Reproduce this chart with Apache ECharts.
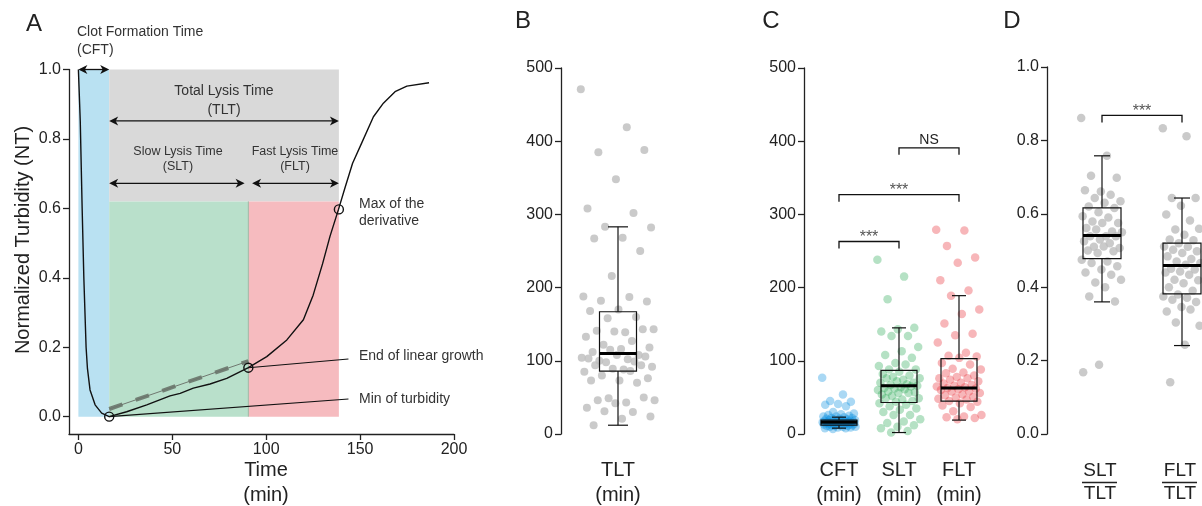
<!DOCTYPE html>
<html>
<head>
<meta charset="utf-8">
<script src="https://cdn.jsdelivr.net/npm/echarts@6/dist/echarts.min.js"></script>
<style>
html, body { margin: 0; padding: 0; background: #fff; }
#main { width: 1202px; height: 506px; }
</style>
</head>
<body>
<div id="main"></div>
<script>
// Panel A: one turbidity curve (time in min, normalized turbidity)
const curveTime = [0, 1, 2, 2.9, 4.1, 4.8, 6.2, 8.9, 12.4, 16.4, 25.7, 36.4, 48.8, 54.2, 61.2, 70.1, 79, 90.5,
    100.3, 111, 119.8, 125, 130, 134, 138.5, 142, 146, 151, 157.1, 162.4, 168.6, 174.9, 186.7];
const curveNT = [1.0, 0.85, 0.6, 0.4, 0.2, 0.14, 0.077, 0.034, 0.01, 0, 0.014, 0.034, 0.06, 0.067, 0.082, 0.094, 0.11, 0.141,
    0.173, 0.221, 0.279, 0.35, 0.44, 0.52, 0.597, 0.66, 0.73, 0.79, 0.864, 0.903, 0.936, 0.952, 0.962];
// key points: min of turbidity, end of linear growth, max of derivative
const keyTime = [16.4, 90.5, 138.7];
const keyNT = [0, 0.141, 0.597];
const linearFitTime = [16.4, 90.5];
const linearFitNT = [0.022, 0.160];

// Panel B: total lysis time (min)
const tltValues = [471, 419, 385, 388, 348, 308, 302, 283, 282, 268, 267, 250, 216, 188, 187, 182, 181, 170, 168, 160,
    158, 143, 139, 141, 143, 140, 133, 127, 122, 118, 116, 112, 108, 115, 104, 102, 100, 106, 108, 103,
    99, 98, 92, 88, 94, 94, 89, 85, 86, 80, 76, 73, 73, 70, 49, 46, 43, 46, 50, 42, 36, 30, 31, 24, 21, 12];
const tltBox = [12, 86, 110, 167, 283]; // min, q1, median, q3, max

// Panel C: CFT, SLT, FLT (min)
const cCategories = ['CFT', 'SLT', 'FLT'];
const cftValues = [77, 54, 45, 44, 41, 40, 38, 30, 28, 27, 26, 25, 24, 24, 23, 22, 22, 21, 21, 20, 20, 19, 19, 19,
    18, 18, 18, 17, 17, 17, 17, 16, 16, 16, 16, 16, 15, 15, 15, 15, 15, 14, 14, 14, 14, 13, 13, 13, 13,
    12, 12, 12, 11, 11, 11, 10, 10, 10, 9, 9, 8, 8, 7];
const sltValues = [238, 215, 184, 145, 143, 140, 134, 134, 119, 113, 108, 104, 97, 93, 95, 88, 88, 85, 82, 80, 78,
    76, 74, 76, 70, 72, 70, 68, 67, 66, 64, 63, 65, 62, 60, 61, 58, 57, 56, 54, 56, 52, 49, 47, 49, 45, 44,
    42, 40, 38, 35, 33, 30, 26, 26, 20, 17, 15, 12, 10, 8, 4, 2];
const fltValues = [279, 278, 257, 241, 234, 210, 196, 189, 170, 164, 151, 137, 135, 125, 111, 107, 106, 104, 97, 95,
    89, 88, 84, 83, 80, 78, 76, 76, 74, 72, 70, 69, 67, 66, 65, 64, 63, 62, 61, 60, 58, 58, 56, 54, 53,
    51, 50, 48, 47, 45, 44, 42, 39, 37, 31, 26, 24, 23, 22, 20];
const cBoxes = [
    [8, 12, 16, 19, 23],
    [2, 43, 66, 87, 145],
    [19, 45, 63, 103, 189]
];
const cBrackets = [[1, 2, 263], [1, 3, 327], [2, 3, 391]];
const cBracketLabels = ['***', '***', 'NS'];

// Panel D: ratios
const dCategories = ['SLT/TLT', 'FLT/TLT'];
const sltRatio = [0.861, 0.758, 0.704, 0.698, 0.661, 0.664, 0.652, 0.643, 0.634, 0.63, 0.62, 0.616, 0.604, 0.593, 0.59,
    0.579, 0.575, 0.575, 0.561, 0.552, 0.557, 0.55, 0.539, 0.539, 0.539, 0.53, 0.525, 0.52, 0.51, 0.507, 0.511,
    0.50, 0.498, 0.493, 0.475, 0.47, 0.466, 0.457, 0.448, 0.44, 0.434, 0.413, 0.42, 0.40, 0.375, 0.361, 0.189, 0.168];
const fltRatio = [0.833, 0.811, 0.643, 0.643, 0.622, 0.598, 0.582, 0.557, 0.559, 0.543, 0.53, 0.528, 0.52, 0.511,
    0.51, 0.502, 0.498, 0.493, 0.484, 0.477, 0.47, 0.466, 0.461, 0.45, 0.448, 0.443, 0.44, 0.434, 0.42, 0.419,
    0.411, 0.40, 0.39, 0.38, 0.375, 0.371, 0.366, 0.36, 0.346, 0.334, 0.339, 0.304, 0.295, 0.243, 0.141];
const dBoxes = [
    [0.36, 0.478, 0.541, 0.616, 0.758],
    [0.241, 0.382, 0.459, 0.52, 0.643]
];
const dBrackets = [[1, 2, 0.868]];

const FONT = '"Liberation Sans", Arial, Helvetica, sans-serif';
const INK = '#222';

function jitter(values, center, spread) {
    return values.map((v, i) => [center + (((i * 0.618034) % 1) * 2 - 1) * spread, v]);
}

function yAxisOf(grid, min, max, opts) {
    return Object.assign({
        gridIndex: grid, type: 'value', min: min, max: max,
        axisLine: { show: true, onZero: false, lineStyle: { color: INK, width: 1.3 } },
        axisTick: { show: true, length: 6, lineStyle: { color: INK, width: 1.3 } },
        axisLabel: { color: INK, fontSize: 16, fontFamily: FONT, margin: 8 },
        splitLine: { show: false }
    }, opts || {});
}

function hiddenX(grid, min, max) {
    return { gridIndex: grid, type: 'value', min: min, max: max, show: false, splitLine: { show: false } };
}

function boxRender(halfW, capW) {
    return function (params, api) {
        const x = api.value(0);
        const pMin = api.coord([x, api.value(1)]);
        const pQ1 = api.coord([x, api.value(2)]);
        const pMed = api.coord([x, api.value(3)]);
        const pQ3 = api.coord([x, api.value(4)]);
        const pMax = api.coord([x, api.value(5)]);
        const cx = pMed[0];
        const ls = { stroke: '#111', lineWidth: 1.2 };
        return {
            type: 'group',
            children: [
                { type: 'line', shape: { x1: cx, y1: pQ3[1], x2: cx, y2: pMax[1] }, style: ls },
                { type: 'line', shape: { x1: cx, y1: pQ1[1], x2: cx, y2: pMin[1] }, style: ls },
                { type: 'line', shape: { x1: cx - capW, y1: pMax[1], x2: cx + capW, y2: pMax[1] }, style: ls },
                { type: 'line', shape: { x1: cx - capW, y1: pMin[1], x2: cx + capW, y2: pMin[1] }, style: ls },
                { type: 'rect', shape: { x: cx - halfW, y: pQ3[1], width: 2 * halfW, height: pQ1[1] - pQ3[1] },
                    style: { fill: 'none', stroke: '#111', lineWidth: 1.2 } },
                { type: 'line', shape: { x1: cx - halfW, y1: pMed[1], x2: cx + halfW, y2: pMed[1] },
                    style: { stroke: '#000', lineWidth: 3 } }
            ]
        };
    };
}

function bracketRender(labels, fontSize) {
    return function (params, api) {
        const p0 = api.coord([api.value(0), api.value(2)]);
        const p1 = api.coord([api.value(1), api.value(2)]);
        const ls = { stroke: '#111', lineWidth: 1.3, fill: 'none' };
        const lab = labels[params.dataIndex];
        const isStar = lab === '***';
        return {
            type: 'group',
            children: [
                { type: 'polyline', shape: { points: [[p0[0], p0[1] + 7], [p0[0], p0[1]], [p1[0], p1[1]], [p1[0], p1[1] + 7]] }, style: ls },
                { type: 'text', x: (p0[0] + p1[0]) / 2, y: p0[1] - (isStar ? 4 : 8),
                    style: { text: lab, font: (isStar ? 16 : fontSize) + 'px ' + FONT, fill: isStar ? '#555' : INK,
                        textAlign: 'center', textVerticalAlign: 'middle' } }
            ]
        };
    };
}

function arrowHead(tip, dir) {
    const L = 9, W = 4.5, N = 2.5;
    return {
        type: 'polygon',
        shape: { points: [[tip[0], tip[1]], [tip[0] - dir * L, tip[1] - W], [tip[0] - dir * (L - N), tip[1]], [tip[0] - dir * L, tip[1] + W]] },
        style: { fill: '#111' }
    };
}

function arrow(api, t0, t1, y) {
    const p0 = api.coord([t0, y]);
    const p1 = api.coord([t1, y]);
    return [
        { type: 'line', shape: { x1: p0[0] + 2, y1: p0[1], x2: p1[0] - 2, y2: p1[1] }, style: { stroke: '#111', lineWidth: 1.3 } },
        arrowHead(p0, -1), arrowHead(p1, 1)
    ];
}

const tMin = keyTime[0], tLin = keyTime[1], tMax = keyTime[2];

function rect(api, x0, x1, y0, y1, color) {
    const a = api.coord([x0, y1]);
    const b = api.coord([x1, y0]);
    return { type: 'rect', shape: { x: a[0], y: a[1], width: b[0] - a[0], height: b[1] - a[1] }, style: { fill: color } };
}

const chart = echarts.init(document.getElementById('main'));

const texts = [];
function txt(s, x, y, size, align, color, rot) {
    texts.push({
        type: 'text', x: x, y: y, rotation: rot || 0, z: 100,
        style: { text: s, font: size + 'px ' + FONT, fill: color || INK, textAlign: align || 'center', textVerticalAlign: 'middle' }
    });
}
// panel letters
txt('A', 34, 24, 24);
txt('B', 523, 21, 24);
txt('C', 771, 21, 24);
txt('D', 1012, 21, 24);
// panel A annotations
txt('Clot Formation Time', 77, 32, 14, 'left', '#333');
txt('(CFT)', 77, 50, 14, 'left', '#333');
txt('Total Lysis Time', 224, 91, 14, 'center', '#333');
txt('(TLT)', 224, 110, 14, 'center', '#333');
txt('Slow Lysis Time', 178, 152, 12.5, 'center', '#333');
txt('(SLT)', 178, 167, 12.5, 'center', '#333');
txt('Fast Lysis Time', 295, 152, 12.5, 'center', '#333');
txt('(FLT)', 295, 167, 12.5, 'center', '#333');
txt('Max of the', 359, 204, 14, 'left', '#333');
txt('derivative', 359, 221, 14, 'left', '#333');
txt('End of linear growth', 359, 356, 14, 'left', '#333');
txt('Min of turbidity', 359, 399, 14, 'left', '#333');
txt('Normalized Turbidity (NT)', 23, 240, 20, 'center', INK, Math.PI / 2);
txt('Time', 266, 470, 20);
txt('(min)', 266, 495, 20);
// panel B/C labels
txt('TLT', 618, 470, 20);
txt('(min)', 618, 495, 20);
[839, 899, 959].forEach((x, i) => {
    txt(cCategories[i], x, 470, 20);
    txt('(min)', x, 495, 20);
});
// panel D fraction labels
[1100, 1180].forEach((x, i) => {
    const parts = dCategories[i].split('/');
    txt(parts[0], x, 471, 19);
    txt(parts[1], x, 494, 19);
    texts.push({ type: 'line', z: 100, shape: { x1: x - 18, y1: 482.5, x2: x + 17, y2: 482.5 }, style: { stroke: INK, lineWidth: 1.3 } });
});

const option = {
    backgroundColor: '#fff',
    animation: false,
    grid: [
        { left: 69, top: 69.5, width: 385, height: 364.5 },
        { left: 561, top: 68, width: 120, height: 366 },
        { left: 804, top: 68, width: 185, height: 366 },
        { left: 1047, top: 67, width: 155, height: 367 }
    ],
    xAxis: [
        {
            gridIndex: 0, type: 'value', min: -5, max: 200,
            axisLine: { show: true, onZero: false, lineStyle: { color: INK, width: 1.3 } },
            axisTick: { show: true, length: 6, customValues: [0, 50, 100, 150, 200], lineStyle: { color: INK, width: 1.3 } },
            axisLabel: { customValues: [0, 50, 100, 150, 200], color: INK, fontSize: 16, fontFamily: FONT, margin: 8 },
            splitLine: { show: false }
        },
        hiddenX(1, -0.95, 1.05),
        hiddenX(2, 0.4167, 3.5),
        hiddenX(3, 0.3125, 2.25)
    ],
    yAxis: [
        yAxisOf(0, -0.05, 1.0, {
            axisTick: { show: true, length: 6, customValues: [0, 0.2, 0.4, 0.6, 0.8, 1.0], lineStyle: { color: INK, width: 1.3 } },
            axisLabel: { customValues: [0, 0.2, 0.4, 0.6, 0.8, 1.0], formatter: v => v.toFixed(1), color: INK, fontSize: 16, fontFamily: FONT, margin: 8 }
        }),
        yAxisOf(1, 0, 500, { interval: 100 }),
        yAxisOf(2, 0, 500, { interval: 100 }),
        yAxisOf(3, 0, 1, {
            interval: 0.2,
            axisLabel: { formatter: v => v.toFixed(1), color: INK, fontSize: 16, fontFamily: FONT, margin: 8 }
        })
    ],
    graphic: texts,
    series: [
        {
            // phase backgrounds
            type: 'custom', xAxisIndex: 0, yAxisIndex: 0, z: 1, silent: true, data: [0],
            renderItem: function (params, api) {
                const div0 = api.coord([tLin, 0]);
                const div1 = api.coord([tLin, 0.62]);
                return {
                    type: 'group', children: [
                        rect(api, 0, tMin, 0, 1.0, '#b9e1f2'),
                        rect(api, tMin, tMax, 0.62, 1.0, '#d9d9d9'),
                        rect(api, tMin, tLin, 0, 0.62, '#b9e0cb'),
                        rect(api, tLin, tMax, 0, 0.62, '#f6bbbf'),
                        { type: 'line', shape: { x1: div0[0], y1: div0[1], x2: div1[0], y2: div1[1] }, style: { stroke: '#9fb8a4', lineWidth: 1 } }
                    ]
                };
            }
        },
        {
            type: 'line', xAxisIndex: 0, yAxisIndex: 0, z: 3, showSymbol: false, silent: true,
            data: linearFitTime.map((t, i) => [t, linearFitNT[i]]),
            lineStyle: { color: '#707870', width: 1 }
        },
        {
            type: 'line', xAxisIndex: 0, yAxisIndex: 0, z: 3, showSymbol: false, silent: true,
            data: linearFitTime.map((t, i) => [t, linearFitNT[i]]),
            lineStyle: { color: '#6a756c', width: 4, type: [14, 14], opacity: 0.9 }
        },
        {
            type: 'line', xAxisIndex: 0, yAxisIndex: 0, z: 4, showSymbol: false, silent: true,
            data: curveTime.map((t, i) => [t, curveNT[i]]),
            lineStyle: { color: '#111', width: 1.4 }
        },
        {
            // arrows, leader lines and key point circles
            type: 'custom', xAxisIndex: 0, yAxisIndex: 0, z: 5, silent: true, data: [0],
            renderItem: function (params, api) {
                let children = [];
                children = children.concat(arrow(api, 0, tMin, 1.0));
                children = children.concat(arrow(api, tMin, tMax, 0.852));
                children = children.concat(arrow(api, tMin, tLin - 2, 0.672));
                children = children.concat(arrow(api, tLin + 2, tMax, 0.672));
                const kp = keyTime.map((t, i) => api.coord([t, keyNT[i]]));
                const endMin = api.coord([143.8, 0.051]);
                const endLin = api.coord([143.8, 0.166]);
                children.push({ type: 'line', shape: { x1: kp[0][0], y1: kp[0][1], x2: endMin[0], y2: endMin[1] }, style: { stroke: '#111', lineWidth: 1.1 } });
                children.push({ type: 'line', shape: { x1: kp[1][0], y1: kp[1][1], x2: endLin[0], y2: endLin[1] }, style: { stroke: '#111', lineWidth: 1.1 } });
                kp.forEach(p => children.push({ type: 'circle', shape: { cx: p[0], cy: p[1], r: 4.5 }, style: { fill: 'none', stroke: '#111', lineWidth: 1.4 } }));
                return { type: 'group', children: children };
            }
        },
        {
            type: 'scatter', xAxisIndex: 1, yAxisIndex: 1, z: 2, symbolSize: 8,
            data: jitter(tltValues, 0, 0.62),
            itemStyle: { color: '#bdbdbd' }
        },
        {
            type: 'custom', xAxisIndex: 1, yAxisIndex: 1, z: 5, renderItem: boxRender(18.5, 10),
            data: [[0].concat(tltBox)]
        },
        {
            type: 'scatter', xAxisIndex: 2, yAxisIndex: 2, z: 2, symbolSize: 8.5,
            data: jitter(cftValues, 1, 0.28),
            itemStyle: { color: '#0a8fdf', opacity: 0.35 }
        },
        {
            type: 'scatter', xAxisIndex: 2, yAxisIndex: 2, z: 2, symbolSize: 8.5,
            data: jitter(sltValues, 2, 0.36),
            itemStyle: { color: '#2caa57', opacity: 0.35 }
        },
        {
            type: 'scatter', xAxisIndex: 2, yAxisIndex: 2, z: 2, symbolSize: 8.5,
            data: jitter(fltValues, 3, 0.38),
            itemStyle: { color: '#e82e36', opacity: 0.35 }
        },
        {
            type: 'custom', xAxisIndex: 2, yAxisIndex: 2, z: 5, renderItem: boxRender(18, 7),
            data: cBoxes.map((b, i) => [i + 1].concat(b))
        },
        {
            type: 'custom', xAxisIndex: 2, yAxisIndex: 2, z: 5, renderItem: bracketRender(cBracketLabels, 14),
            data: cBrackets
        },
        {
            type: 'scatter', xAxisIndex: 3, yAxisIndex: 3, z: 2, symbolSize: 8.5,
            data: jitter(sltRatio, 1, 0.26).concat(jitter(fltRatio, 2, 0.24)),
            itemStyle: { color: '#bdbdbd' }
        },
        {
            type: 'custom', xAxisIndex: 3, yAxisIndex: 3, z: 5, renderItem: boxRender(19, 8),
            data: dBoxes.map((b, i) => [i + 1].concat(b))
        },
        {
            type: 'custom', xAxisIndex: 3, yAxisIndex: 3, z: 5, renderItem: bracketRender(['***'], 14),
            data: dBrackets
        }
    ]
};

chart.setOption(option);
</script>
</body>
</html>
